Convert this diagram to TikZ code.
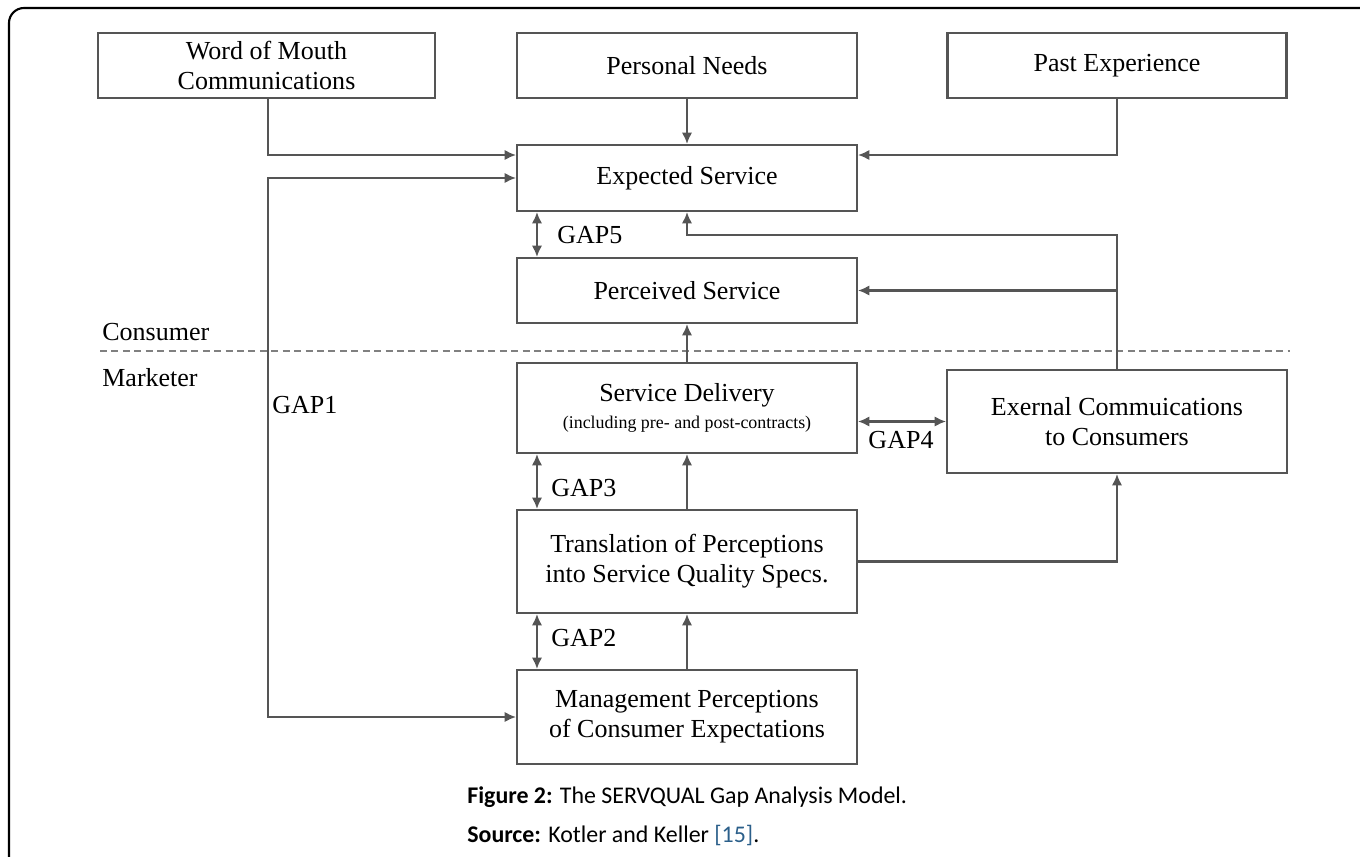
\documentclass[tikz,border=0pt]{standalone}
\usepackage{fontspec}
\setmainfont{Liberation Serif}
\newfontfamily\capfont{Carlito}
\usepackage{tkz-euclide}
\usetikzlibrary{arrows.meta}
\definecolor{linegray}{HTML}{555555}
\definecolor{refblue}{HTML}{2B5F8A}

\begin{document}
\begin{tikzpicture}[x=0.02cm,y=-0.02cm,
  box/.style={draw=linegray,line width=1.2pt,minimum width=6.8cm,inner sep=0pt,
    align=center,font=\fontsize{14.8}{17}\selectfont},
  arr/.style={draw=linegray,line width=1.2pt,-{Latex[length=6.5pt,width=6pt]}},
  dbl/.style={draw=linegray,line width=1.2pt,
    {Latex[length=6.5pt,width=6pt]}-{Latex[length=6.5pt,width=6pt]}},
  lbl/.style={font=\fontsize{14.8}{17}\selectfont,inner sep=0pt,anchor=west}]
\useasboundingbox (0,0) rectangle (1360,856);

\tkzDefPoint(1380,8){fR}
\tkzDefPoint(9,8){fC}
\tkzDefPoint(9,880){fB}
\draw[line width=1.2pt,rounded corners=0.3cm] (fR) -- (fC) -- (fB);

\tkzDefPoint(100,351){dL}
\tkzDefPoint(1290,351){dR}
\draw[gray,line width=0.9pt,dash pattern=on 4pt off 2.5pt] (dL) -- (dR);

  \node[box,minimum width=6.74cm,minimum height=1.3cm] (WoM) at (266.5,65.5) {Word of Mouth\\Communications};
  \node[box,minimum height=1.3cm] (PN) at (687,65.5) {Personal Needs};
  \node[box,minimum width=6.78cm,minimum height=1.3cm] (PE) at (1117,65.5) {Past Experience};

\node[box,minimum height=1.32cm] (ES) at (687,178) {Expected Service};
\node[box,minimum height=1.3cm] (PS) at (687,290.5) {Perceived Service};
\node[box,minimum height=1.8cm] (SD) at (687,408) {Service Delivery\\[-2pt]{\fontsize{10.2}{12}\selectfont (including pre- and post-contracts)}};
\node[box,minimum height=2.06cm] (TR) at (687,561.5) {Translation of Perceptions\\into Service Quality Specs.};
\node[box,minimum height=1.88cm] (MP) at (687,717) {Management Perceptions\\of Consumer Expectations};

  \node[box,minimum height=2.06cm] (EC) at (1117,421.5) {Exernal Commuications\\to Consumers};

\draw[arr] (WoM.south -| 268,0) |- ([yshift=0.46cm]ES.west);
\draw[arr] (PN.south) -- (ES.north);
\draw[arr] (PE.south) |- ([yshift=0.46cm]ES.east);

\tkzDefPoint(268,717){gOne}
\draw[dbl] (ES.west) -| (gOne) -- (MP.west);

\draw[dbl] ([xshift=0.42cm]ES.south west) -- ([xshift=0.42cm]PS.north west);
\draw[dbl] ([xshift=0.42cm]SD.south west) -- ([xshift=0.42cm]TR.north west);
\draw[dbl] ([xshift=0.42cm]TR.south west) -- ([xshift=0.42cm]MP.north west);
\draw[dbl] (EC.west -| SD.east) -- (EC.west);

\draw[arr] (SD.north) -- (PS.south);
\draw[arr] (TR.north) -- (SD.south);
\draw[arr] (MP.north) -- (TR.south);
\draw[arr] (TR.east) -| (EC.south);

\tkzDefPoint(1117,235){fb}
\draw[arr] (EC.north) -- (fb) -| (ES.south);
\draw[arr] (fb |- PS.east) -- (PS.east);

\node[lbl] (gap1) at (272,405) {GAP1};
\node[lbl] (gap5) at (557,235) {GAP5};
\node[lbl] (gap3) at (551,488) {GAP3};
\node[lbl] (gap2) at (551,638) {GAP2};
\node[lbl,anchor=center] (gap4) at (901,440) {GAP4};
\node[lbl] (cons) at (102,332) {Consumer};
\node[lbl] (mark) at (102,378) {Marketer};

\node[anchor=west,inner sep=0pt,font=\capfont\fontsize{13.6}{16}\selectfont] (cap) at (467,797)
  {\textbf{Figure 2:} The SERVQUAL Gap Analysis Model.};
\node[anchor=west,inner sep=0pt,font=\capfont\fontsize{13.6}{16}\selectfont] (src) at (467,835)
  {\textbf{Source:} Kotler and Keller \textcolor{refblue}{[15]}.};
\end{tikzpicture}
\end{document}
